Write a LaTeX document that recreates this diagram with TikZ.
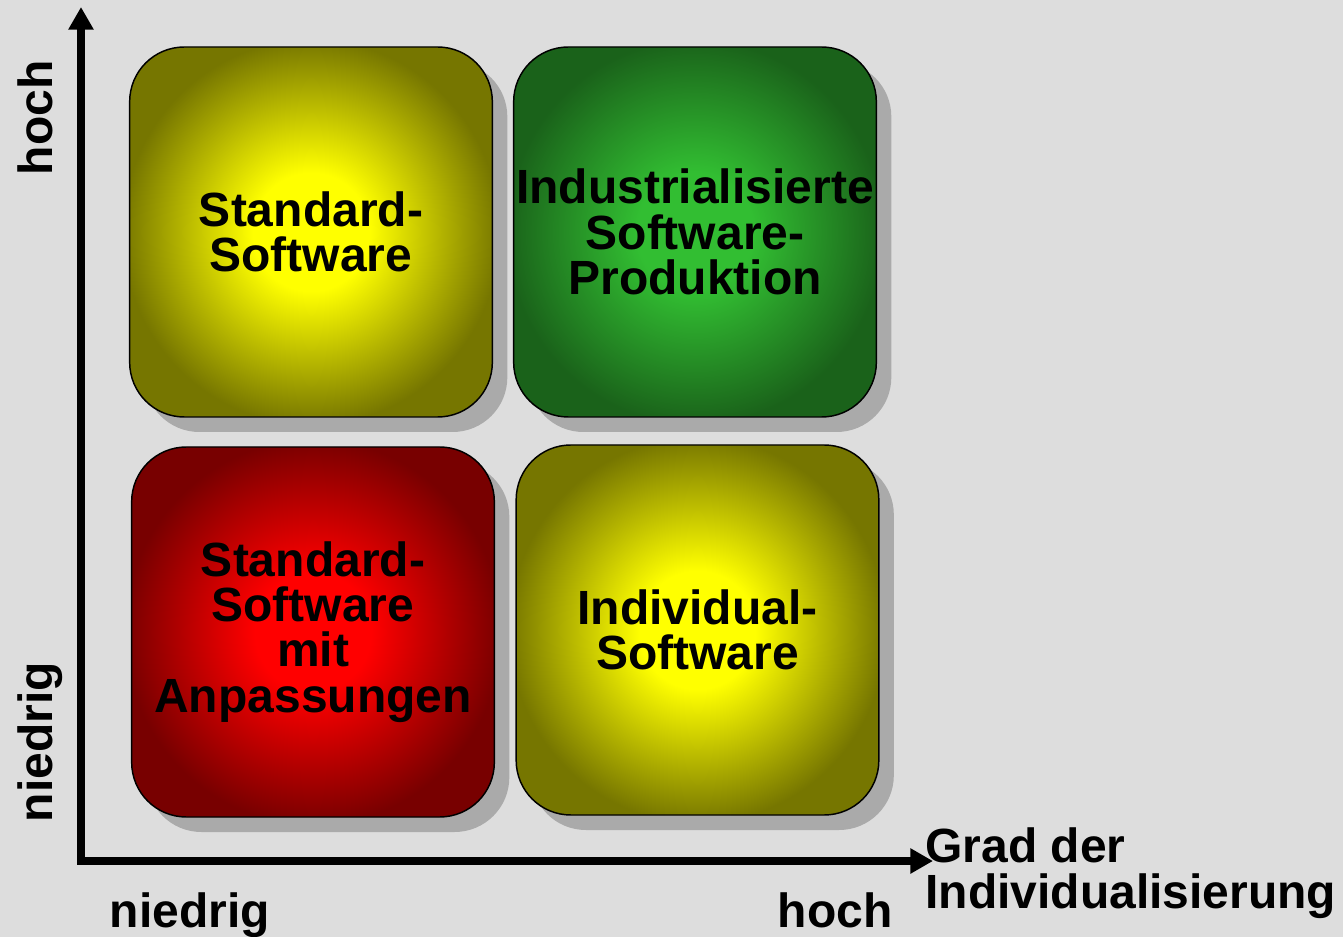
\documentclass[tikz,border=0pt]{standalone}
\usepackage{fontspec}
\setmainfont{Liberation Sans}
\usetikzlibrary{arrows.meta,shadows}

\definecolor{bggray}{RGB}{221,221,221}
\definecolor{shadowgray}{RGB}{170,170,170}
\definecolor{yellowin}{RGB}{255,255,0}
\definecolor{yellowout}{RGB}{118,118,0}
\definecolor{greenin}{RGB}{50,190,50}
\definecolor{greenout}{RGB}{26,98,26}
\definecolor{redin}{RGB}{255,0,0}
\definecolor{redout}{RGB}{120,0,0}

\pgfdeclareradialshading{glowyellow}{\pgfpoint{0bp}{0bp}}{color(0bp)=(yellowin); color(8bp)=(yellowin); color(26bp)=(yellowout); color(50bp)=(yellowout)}
\pgfdeclareradialshading{glowgreen}{\pgfpoint{0bp}{0bp}}{color(0bp)=(greenin); color(8bp)=(greenin); color(26bp)=(greenout); color(50bp)=(greenout)}
\pgfdeclareradialshading{glowred}{\pgfpoint{0bp}{0bp}}{color(0bp)=(redin); color(8bp)=(redin); color(26bp)=(redout); color(50bp)=(redout)}

\tikzset{every picture/.style={line width=0.75pt}}
\tikzset{
  quad/.style={draw=black, line width=1.1pt, rounded corners=41pt,
    minimum width=272pt, minimum height=277.5pt, inner sep=0pt, align=center,
    font=\bfseries\fontsize{36}{34}\selectfont,
    drop shadow={shadow xshift=11.25pt, shadow yshift=-11.25pt, fill=shadowgray, opacity=1}},
  axlabel/.style={inner sep=0pt, font=\bfseries\fontsize{36}{35}\selectfont},
  axis/.style={line width=5.5pt, line join=miter, >={Triangle[length=17pt,width=18pt]}, <->}
}

\begin{document}
\begin{tikzpicture}[x=0.75pt,y=0.75pt,yscale=-1,xscale=1]
\useasboundingbox (0,0) rectangle (1343,937);
\fill[bggray] (0,0) rectangle (1343,937);

%Shape: Rounded Rect
\node[quad, shade, shading=glowyellow] (std) at (311,232) {Standard-\\Software};
%Shape: Rounded Rect
\node[quad, shade, shading=glowgreen] (ind) at (695,232) {Industrialisierte\\Software-\\Produktion};
%Shape: Rounded Rect
\node[quad, shade, shading=glowred] (anp) at (313,632) {Standard-\\Software\\mit\\Anpassungen};
%Shape: Rounded Rect
\node[quad, shade, shading=glowyellow] (indiv) at (697.5,630) {Individual-\\Software};

%Straight Lines
\coordinate (origin) at (81,861);
\coordinate (ytip) at (81,7);
\coordinate (xtip) at (933,861);
\draw[axis] (ytip) -- (origin) -- (xtip);

% Text Node
\node[axlabel, rotate=90, anchor=base] (yhigh) at (52,118) {hoch};
% Text Node
\node[axlabel, rotate=90, anchor=base] (ylow) at (52,742) {niedrig};
% Text Node
\node[axlabel, anchor=base] (xlow) at (190,927) {niedrig};
% Text Node
\node[axlabel, anchor=base] (xhigh) at (835,927) {hoch};
% Text Node
\node[axlabel, anchor=north west, align=left] (xtitle) at (925,827) {Grad der\\Individualisierung};

\end{tikzpicture}
\end{document}
